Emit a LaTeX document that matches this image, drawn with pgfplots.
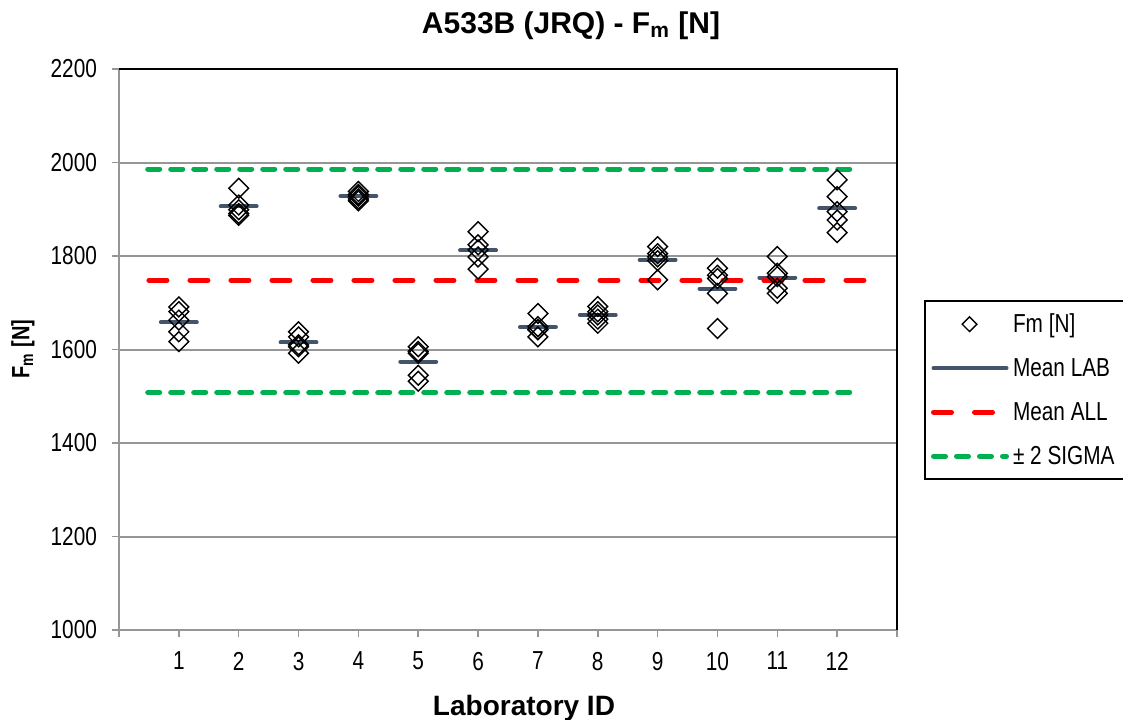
\documentclass[border=0pt]{standalone}
\usepackage{fontspec}
\setmainfont{Liberation Sans}
\newfontfamily\narrow[FakeStretch=0.8]{Liberation Sans}
\usepackage{pgfplots}
\pgfplotsset{compat=1.18}
\definecolor{meanlab}{HTML}{44546A}
\definecolor{sigmagreen}{HTML}{00B050}
\definecolor{gridgray}{HTML}{969696}
\pgfplotsset{
  mylinelegend/.style={legend image code/.code={\draw[##1] (0pt,0pt) -- (36.5pt,0pt);}},
  mymarklegend/.style={legend image code/.code={\draw[mark repeat=2,mark phase=2,##1] plot coordinates {(0pt,0pt) (18pt,0pt) (36.5pt,0pt)};}},
}
\pgfplotstableread{
x y
1 1691
1 1681
1 1663
1 1638
1 1617
2 1945
2 1909
2 1899
2 1891
2 1887
3 1638
3 1627
3 1610
3 1606
3 1592
4 1938
4 1932
4 1928
4 1922
4 1918
5 1606
5 1596
5 1592
5 1545
5 1532
6 1852
6 1824
6 1813
6 1798
6 1772
7 1677
7 1649
7 1643
7 1642
7 1627
8 1692
8 1681
8 1674
8 1665
8 1656
9 1820
9 1805
9 1798
9 1790
9 1749
10 1774
10 1759
10 1752
10 1720
10 1645
11 1799
11 1763
11 1756
11 1731
11 1720
12 1963
12 1927
12 1895
12 1877
12 1850
}\fmdata
\pgfplotstableread{
x y
0.7 1658
1.3 1658
nan nan
1.7 1906
2.3 1906
nan nan
2.7 1615
3.3 1615
nan nan
3.7 1928
4.3 1928
nan nan
4.7 1574
5.3 1574
nan nan
5.7 1812
6.3 1812
nan nan
6.7 1648
7.3 1648
nan nan
7.7 1674
8.3 1674
nan nan
8.7 1792
9.3 1792
nan nan
9.7 1730
10.3 1730
nan nan
10.7 1754
11.3 1754
nan nan
11.7 1902
12.3 1902
}\meanlab
\begin{document}
\begin{tikzpicture}
\path[use as bounding box] (0,0) rectangle (561.5pt,-359.5pt);
\begin{axis}[
  at={(59.5pt,-315pt)}, anchor=south west,
  scale only axis, width=389pt, height=280.5pt,
  xmin=0, xmax=13, ymin=1000, ymax=2200,
  xtick={0,...,13}, xticklabels={,1,2,3,4,5,6,7,8,9,10,11,12,},
  ytick={1000,1200,...,2200},
  ymajorgrids, grid style={gridgray, line width=1pt},
  axis x line*=bottom, axis y line*=left,
  axis line style={gridgray, line width=1pt, -},
  tick style={gridgray, line width=0.75pt},
  tick align=outside, major tick length=3.5pt,
  ticklabel style={font=\narrow\fontsize{13}{15}\selectfont, text=black},
  /pgf/number format/assume math mode=true,
  /pgf/number format/set thousands separator={},
  yticklabel style={xshift=-4pt},
  xticklabel style={yshift=-4pt},
  clip=false,
  unbounded coords=jump,
  legend cell align=left,
  legend style={at={(1,0.588)}, anchor=north west, xshift=13.5pt,
    draw=black, line width=1pt, font=\narrow\fontsize{13}{15}\selectfont,
    inner xsep=3pt, inner ysep=4pt, row sep=7pt, column sep=0pt,
    cells={anchor=west, text height=9.5pt, text depth=2.5pt}},
]
\addlegendimage{mymarklegend, only marks, black, mark=square, mark size=2.6pt, mark options={rotate=45, line width=0.7pt}}
\addlegendentry{Fm [N]}
\addlegendimage{mylinelegend, meanlab, line width=2pt, line cap=round}
\addlegendentry{Mean LAB}
\addlegendimage{mylinelegend, red, line width=2.5pt, line cap=round, dash pattern=on 9pt off 11.5pt}
\addlegendentry{Mean ALL}
\addlegendimage{mylinelegend, sigmagreen, line width=2.5pt, line cap=round, dash pattern=on 6pt off 5.5pt}
\addlegendentry{± 2 SIGMA}

\addplot[forget plot, meanlab, line width=2pt, line cap=round] table[x=x,y=y] {\meanlab};
\addplot[forget plot, red, line width=2.5pt, line cap=round, dash pattern=on 9pt off 11.5pt] coordinates {(0.5,1748) (12.5,1748)};
\addplot[forget plot, sigmagreen, line width=2.5pt, line cap=round, dash pattern=on 6pt off 5.5pt] coordinates {(0.48,1986) (12.32,1986)};
\addplot[forget plot, sigmagreen, line width=2.5pt, line cap=round, dash pattern=on 6pt off 5.5pt] coordinates {(0.48,1508) (12.32,1508)};
\addplot[forget plot, only marks, black, mark=square, mark size=3.5pt, mark options={rotate=45, line width=0.7pt}] table[x=x,y=y] {\fmdata};
\draw[black, line width=0.8pt] (rel axis cs:0,1) -- (rel axis cs:1,1) -- (rel axis cs:1,0);
\end{axis}
\node[anchor=base, font=\bfseries\fontsize{15}{18}\selectfont] at (285.5pt,-16.5pt) {A533B (JRQ) - F\textsubscript{m} [N]};
\node[rotate=90, font=\narrow\bfseries\fontsize{12.5}{15}\selectfont] at (11.5pt,-174.5pt) {F\textsubscript{m} [N]};
\node[anchor=base, font=\bfseries\fontsize{14}{17}\selectfont] at (262pt,-357.5pt) {Laboratory ID};
\end{tikzpicture}
\end{document}
